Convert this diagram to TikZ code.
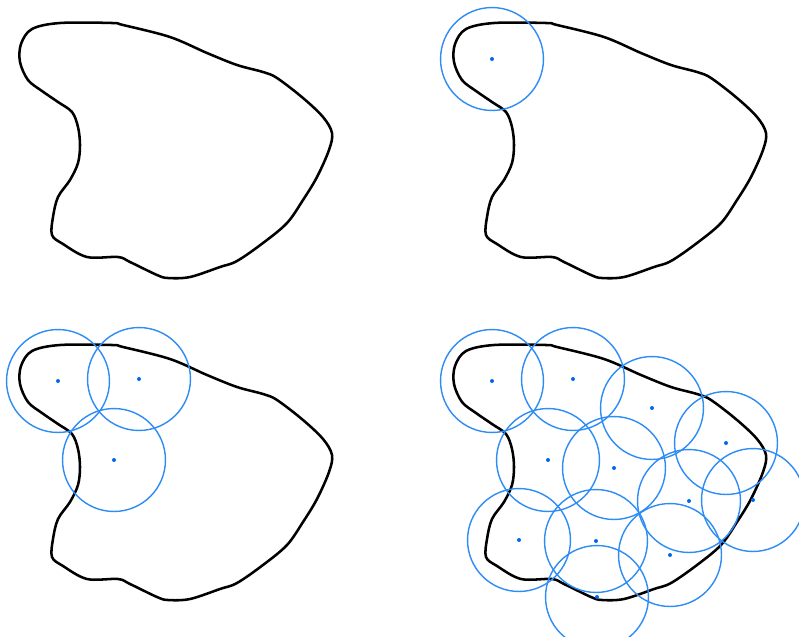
\documentclass[tikz,border=0pt]{standalone}
\begin{document}
\begin{tikzpicture}[x=0.75pt,y=-0.75pt,
  outline/.style={draw=black,line width=1.9pt,line join=round},
  ring/.style={draw={rgb,255:red,45;green,140;blue,245},line width=1.05pt},
  ctr/.style={fill={rgb,255:red,0;green,105;blue,240}},
  blob/.pic={\path[outline] plot[smooth cycle,tension=0.55] coordinates {
    (60,23) (112,23) (123,25) (170,37) (207,53) (237,65) (263,72) (277,78)
    (303,98) (323,117) (332,133) (329,150) (317,177) (303,200) (287,223)
    (263,243) (237,261) (220,267) (190,277) (168,278) (157,275) (130,262)
    (118,257) (87,257) (63,244) (52,235) (53,217) (58,197) (70,180) (78,163)
    (80,145) (78,127) (72,112) (58,102) (42,91) (28,80) (20,62) (21,44) (32,29)};}]
\useasboundingbox (0,0) rectangle (799,636);
\fill[white] (0,0) rectangle (799,636);
% panels
\pic at (0,0) {blob};
\pic at (434,0) {blob};
\pic at (0,322) {blob};
\pic at (434,322) {blob};
% top-right panel
\begin{scope}[shift={(434,0)}]
  \foreach \p in {(58,59)} {\draw[ring] \p circle[radius=38.6pt]; \fill[ctr] \p circle[radius=1.5pt];}
\end{scope}
% bottom-left panel
\begin{scope}[shift={(0,322)}]
  \foreach \p in {(58,59),(139,57),(114,138)} {\draw[ring] \p circle[radius=38.6pt]; \fill[ctr] \p circle[radius=1.5pt];}
\end{scope}
% bottom-right panel
\begin{scope}[shift={(434,322)}]
  \foreach \p in {(58,59),(139,57),(218,86),(292,121),(114,138),(180,146),(255,179),(319,178),(85,218),(162,219),(236,233),(163,275)} {\draw[ring] \p circle[radius=38.6pt]; \fill[ctr] \p circle[radius=1.5pt];}
\end{scope}
\end{tikzpicture}
\end{document}
